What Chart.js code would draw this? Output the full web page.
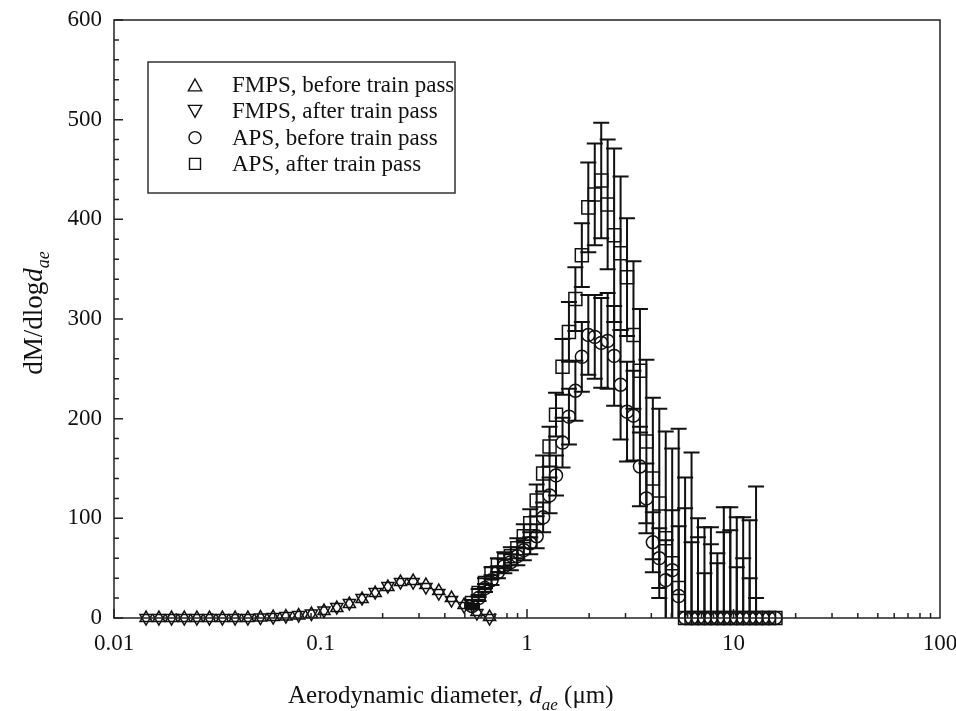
<!DOCTYPE html>
<html lang="en">
<head>
    <meta charset="UTF-8">
    <title>dM/dlog dae</title>
    <script src="https://cdn.jsdelivr.net/npm/chart.js"></script>
    <style>
        body { margin: 0; background: #fff; }
    </style>
</head>
<body>
    <canvas id="sizeChart" width="956" height="711"></canvas>

    <script>
        // FMPS channels (converted to aerodynamic diameter, um)
        var fmpsDiam = [0.0143, 0.0165, 0.0190, 0.0219, 0.0252, 0.0290, 0.0335, 0.0386, 0.0445, 0.0512,
                        0.0590, 0.0680, 0.0784, 0.0904, 0.104, 0.120, 0.138, 0.159, 0.184, 0.212,
                        0.244, 0.281, 0.324, 0.374, 0.431, 0.496, 0.572, 0.659];
        var fmpsBefore = [0, 0, 0, 0, 0, 0, 0, 0, 0, 0.5,
                          1, 1.5, 2.5, 4, 7, 10, 14, 19, 25, 31,
                          36, 37, 33, 27, 20, 13, 6, 1];
        var fmpsAfter = [0, 0, 0, 0, 0, 0, 0, 0, 0, 0.5,
                         1, 2, 3, 4.5, 7.5, 11, 15, 20, 26, 32,
                         36, 36, 31, 25, 18, 12, 5, 0];

        // APS channels (um)
        var apsDiam = [0.542, 0.583, 0.626, 0.673, 0.723, 0.777, 0.835, 0.898, 0.965,
                       1.037, 1.114, 1.197, 1.286, 1.382, 1.486, 1.596, 1.715, 1.843,
                       1.981, 2.129, 2.288, 2.458, 2.642, 2.839, 3.051, 3.278, 3.523,
                       3.786, 4.068, 4.371, 4.698, 5.048, 5.425, 5.829,
                       6.264, 6.732, 7.234, 7.774, 8.354, 8.977, 9.647, 10.37, 11.14, 11.97, 12.86, 13.82, 14.86, 15.96];
        var apsBefore = [12, 20, 30, 38, 46, 52, 56, 62, 68,
                         75, 82, 101, 123, 143, 176, 202, 228, 262,
                         284, 282, 276, 278, 263, 234, 207, 203, 152,
                         120, 76, 60, 38, 48, 22, 0,
                         0, 0, 0, 0, 0, 0, 0, 0, 0, 0, 0, 0, 0, 0];
        var apsBeforeErr = [2, 3, 4, 5, 6, 7, 8, 9, 10,
                            11, 12, 15, 18, 20, 25, 28, 30, 35,
                            40, 42, 45, 48, 50, 55, 50, 45, 40,
                            35, 30, 30, 40, 60, 70, 110,
                            76, 81, 45, 74, 55, 86, 88, 51, 60, 40, 20, 0, 0, 0];
        var apsAfter = [15, 25, 35, 45, 53, 58, 62, 70, 82,
                        95, 118, 145, 172, 204, 252, 287, 320, 364,
                        412, 425, 439, 415, 384, 366, 342, 284, 248,
                        177, 140, 115, 80, 55, 30, 0,
                        0, 0, 0, 0, 0, 0, 0, 0, 0, 0, 0, 0, 0, 0];
        var apsAfterErr = [3, 4, 5, 6, 7, 8, 9, 10, 12,
                           14, 16, 18, 20, 22, 28, 30, 32, 32,
                           45, 51, 58, 65, 87, 77, 59, 74, 62,
                           82, 81, 95, 107, 115, 160, 141,
                           166, 100, 91, 91, 65, 111, 111, 101, 101, 98, 132, 0, 0, 0];

        var xTickValues = [0.01, 0.1, 1, 10, 100];
        var seriesLabels = ['FMPS, before train pass', 'FMPS, after train pass',
                            'APS, before train pass', 'APS, after train pass'];

        var ink = '#111';
        var serif = '"Liberation Serif", "Times New Roman", serif';

        function toPoints(xs, ys) {
            return xs.map(function (x, i) { return { x: x, y: ys[i] }; });
        }

        var markers = [
            { style: 'triangle', rot: 0, r: 7 },
            { style: 'triangle', rot: 180, r: 7 },
            { style: 'circle', rot: 0, r: 6.5 },
            { style: 'rect', rot: 0, r: 9.2 }
        ];

        // error bars for the APS series
        var errorBarPlugin = {
            id: 'errorBars',
            beforeDatasetsDraw: function (chart) {
                var ctx = chart.ctx, xs = chart.scales.x, ys = chart.scales.y, area = chart.chartArea;
                var sets = [[apsBefore, apsBeforeErr], [apsAfter, apsAfterErr]];
                ctx.save();
                ctx.beginPath();
                ctx.rect(area.left, area.top, area.right - area.left, area.bottom - area.top);
                ctx.clip();
                ctx.strokeStyle = ink;
                ctx.lineWidth = 2;
                sets.forEach(function (s) {
                    var vals = s[0], errs = s[1];
                    apsDiam.forEach(function (d, i) {
                        if (!errs[i]) return;
                        var px = xs.getPixelForValue(d);
                        var top = ys.getPixelForValue(vals[i] + errs[i]);
                        var bot = ys.getPixelForValue(vals[i] - errs[i]);
                        ctx.beginPath();
                        ctx.moveTo(px, top); ctx.lineTo(px, bot);
                        ctx.moveTo(px - 8, top); ctx.lineTo(px + 8, top);
                        ctx.moveTo(px - 8, bot); ctx.lineTo(px + 8, bot);
                        ctx.stroke();
                    });
                });
                ctx.restore();
            }
        };

        function drawMarker(ctx, m, x, y, r) {
            ctx.beginPath();
            if (m.style === 'circle') {
                ctx.arc(x, y, r, 0, Math.PI * 2);
            } else if (m.style === 'rect') {
                ctx.rect(x - r, y - r, 2 * r, 2 * r);
            } else {
                var s = m.rot ? -1 : 1;
                ctx.moveTo(x, y - s * r);
                ctx.lineTo(x + r * 0.95, y + s * r * 0.7);
                ctx.lineTo(x - r * 0.95, y + s * r * 0.7);
                ctx.closePath();
            }
            ctx.stroke();
        }

        // frame, inward ticks, axis titles and legend
        var decorPlugin = {
            id: 'decor',
            afterDraw: function (chart) {
                var ctx = chart.ctx, a = chart.chartArea, xs = chart.scales.x, ys = chart.scales.y;
                ctx.save();
                ctx.strokeStyle = '#222';
                ctx.lineWidth = 1.5;
                ctx.strokeRect(a.left, a.top, a.right - a.left, a.bottom - a.top);

                ctx.beginPath();
                for (var dec = 0.01; dec < 100; dec *= 10) {
                    for (var k = 1; k <= 9; k++) {
                        var px = xs.getPixelForValue(dec * k);
                        var len = k === 1 ? 9 : 5;
                        ctx.moveTo(px, a.bottom); ctx.lineTo(px, a.bottom - len);
                    }
                }
                for (var v = 0; v <= 600; v += 20) {
                    var py = ys.getPixelForValue(v);
                    var l2 = v % 100 === 0 ? 9 : 5;
                    ctx.moveTo(a.left, py); ctx.lineTo(a.left + l2, py);
                }
                ctx.stroke();

                ctx.fillStyle = ink;
                ctx.textBaseline = 'alphabetic';
                // x title
                var parts = [
                    ['Aerodynamic diameter, ', '25px ' + serif, 0],
                    ['d', 'italic 25px ' + serif, 0],
                    ['ae', 'italic 17px ' + serif, 7],
                    [' (\u03bcm)', '25px ' + serif, 0]
                ];
                var cx = 288;
                parts.forEach(function (p) {
                    ctx.font = p[1];
                    ctx.fillText(p[0], cx, 703 + p[2]);
                    cx += ctx.measureText(p[0]).width;
                });
                // y title
                var yparts = [
                    ['dM/dlog', '27px ' + serif, 0],
                    ['d', 'italic 27px ' + serif, 0],
                    ['ae', 'italic 18px ' + serif, 7]
                ];
                var total = 0;
                yparts.forEach(function (p) { ctx.font = p[1]; total += ctx.measureText(p[0]).width; });
                ctx.translate(42, 313);
                ctx.rotate(-Math.PI / 2);
                var cy = -total / 2;
                yparts.forEach(function (p) {
                    ctx.font = p[1];
                    ctx.fillText(p[0], cy, p[2]);
                    cy += ctx.measureText(p[0]).width;
                });
                ctx.setTransform(1, 0, 0, 1, 0, 0);

                // legend box
                ctx.strokeStyle = '#333';
                ctx.lineWidth = 1.5;
                ctx.strokeRect(148, 62, 307, 131);
                ctx.font = '23px ' + serif;
                ctx.textBaseline = 'middle';
                seriesLabels.forEach(function (lab, i) {
                    var ly = 85 + i * 26.3;
                    ctx.strokeStyle = ink;
                    ctx.lineWidth = 1.4;
                    var m = markers[i];
                    var rr = m.style === 'circle' ? 6 : (m.style === 'rect' ? 5.5 : 7);
                    drawMarker(ctx, m, 195, ly + (m.style === 'triangle' ? (m.rot ? -1 : 1) : 0), rr);
                    ctx.fillText(lab, 232, ly + 1);
                });
                ctx.restore();
            }
        };

        var datasets = [
            { label: seriesLabels[0], data: toPoints(fmpsDiam, fmpsBefore) },
            { label: seriesLabels[1], data: toPoints(fmpsDiam, fmpsAfter) },
            { label: seriesLabels[2], data: toPoints(apsDiam, apsBefore) },
            { label: seriesLabels[3], data: toPoints(apsDiam, apsAfter) }
        ].map(function (ds, i) {
            ds.showLine = false;
            ds.pointStyle = markers[i].style;
            ds.rotation = markers[i].rot;
            ds.pointRadius = markers[i].r;
            ds.pointBorderWidth = 1.5;
            ds.pointBorderColor = ink;
            ds.pointBackgroundColor = 'rgba(0,0,0,0)';
            ds.clip = false;
            return ds;
        });

        var ctx = document.getElementById('sizeChart').getContext('2d');
        var sizeChart = new Chart(ctx, {
            type: 'scatter',
            data: { datasets: datasets },
            options: {
                responsive: false,
                animation: false,
                layout: { padding: { top: 20, right: 16, left: 0, bottom: 0 } },
                plugins: { legend: { display: false }, tooltip: { enabled: false } },
                scales: {
                    x: {
                        type: 'logarithmic',
                        min: 0.01,
                        max: 100,
                        grid: { display: false, drawTicks: false },
                        border: { display: false },
                        afterBuildTicks: function (scale) {
                            scale.ticks = xTickValues.map(function (v) { return { value: v, major: true }; });
                        },
                        afterFit: function (scale) {
                            scale.height = 93;
                            scale.paddingLeft = 0;
                            scale.paddingRight = 0;
                        },
                        ticks: {
                            autoSkip: false,
                            maxRotation: 0,
                            padding: 12,
                            color: ink,
                            font: { family: serif, size: 23 },
                            callback: function (v) { return String(v); }
                        }
                    },
                    y: {
                        min: 0,
                        max: 600,
                        grid: { display: false, drawTicks: false },
                        border: { display: false },
                        afterFit: function (scale) {
                            scale.width = 114;
                            scale.paddingTop = 0;
                            scale.paddingBottom = 0;
                        },
                        ticks: {
                            stepSize: 100,
                            padding: 12,
                            color: ink,
                            font: { family: serif, size: 23 }
                        }
                    }
                }
            },
            plugins: [errorBarPlugin, decorPlugin]
        });
    </script>
</body>
</html>
